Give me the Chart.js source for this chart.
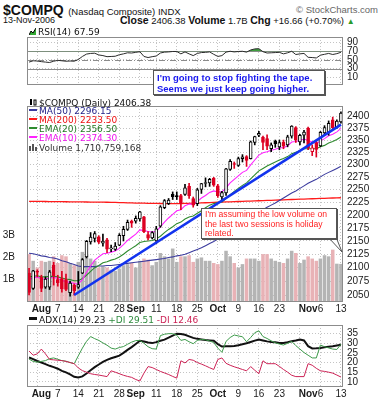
<!DOCTYPE html>
<html><head><meta charset="utf-8">
<script src="https://cdn.jsdelivr.net/npm/chart.js@4.4.1/dist/chart.umd.min.js"></script>
<style>
html,body{margin:0;padding:0;background:#fff}
#wrap{position:relative;width:382px;height:400px;overflow:hidden;background:#fff;font-family:"Liberation Sans",Arial,sans-serif;color:#111}
canvas{position:absolute;left:0}
.a{position:absolute;white-space:nowrap;line-height:1}
.lg{position:absolute;left:29px;font-family:"DejaVu Sans",Verdana,sans-serif;font-size:9px;line-height:9px;white-space:nowrap}
.lg i{display:inline-block;width:8px;height:2px;margin-right:2px;position:relative;top:-3px}
.note{position:absolute;box-sizing:border-box;background:#fff;border:1px solid #555;box-shadow:1px 1px 0 #555;white-space:nowrap}
</style></head><body>
<div id="wrap">
<div class="a" style="left:3px;top:2px"><b style="font-size:14px">$COMPQ</b> <span style="font-size:9.5px">(Nasdaq Composite) INDX</span></div>
<div class="a" style="right:4px;top:5px;font-size:9.5px;color:#666">© StockCharts.com</div>
<div class="a" style="left:3px;top:16px;font-size:9px">13-Nov-2006</div>
<div class="a" style="left:120px;top:15px;font-size:9.5px"><b style="font-size:10.5px">Close</b> 2406.38 <b style="font-size:10.5px">Volume</b> 1.7B <b style="font-size:10.5px">Chg</b> +16.66 (+0.70%) <span style="color:#2a9a2a;font-size:8px">▲</span></div>

<canvas id="rsi" width="382" height="68" style="top:27px"></canvas>
<canvas id="main" width="382" height="220" style="top:96px"></canvas>
<canvas id="adx" width="382" height="86" style="top:315px"></canvas>

<div class="lg" style="top:28px"><svg width="7" height="7" style="margin-right:2px"><path d="M0 7 L2 3 L4 5 L7 0 L7 7Z" fill="#3a3"/><path d="M0 7 L2 3 L4 5 L7 0" stroke="#000" fill="none"/></svg>RSI(14) 67.59</div>

<div class="lg" style="top:98px;color:#111"><svg width="8" height="8" style="margin-right:2px"><rect x="1" y="1" width="2" height="6" fill="#000"/><rect x="5" y="2" width="2" height="5" fill="none" stroke="#000" stroke-width="1"/></svg>$COMPQ (Daily) 2406.38</div>
<div class="lg" style="top:107px;color:#222288"><i style="background:#3b3b9e"></i>MA(50) 2296.15</div>
<div class="lg" style="top:116px;color:#ee1111"><i style="background:#ff1a1a"></i>MA(200) 2233.50</div>
<div class="lg" style="top:125px;color:#227722"><i style="background:#2e8b2e"></i>EMA(20) 2356.50</div>
<div class="lg" style="top:134px;color:#ee11ee"><i style="background:#ff22ff"></i>EMA(10) 2374.30</div>
<div class="lg" style="top:143px;color:#333"><svg width="8" height="8" style="margin-right:2px"><rect x="0" y="3" width="2" height="5" fill="#555"/><rect x="3" y="1" width="2" height="7" fill="#555"/><rect x="6" y="4" width="2" height="4" fill="#555"/></svg>Volume 1,710,759,168</div>

<div class="lg" style="top:316px"><i style="background:#111;height:3px"></i>ADX(14) 29.23 <span style="color:#2e8b3e">+DI 29.51</span> <span style="color:#cc2255">-DI 12.46</span></div>

<div class="note" style="left:153px;top:70px;width:172px;height:25px;padding:1px 0 0 3px;color:#1a1aee;font-weight:bold;font-size:9.5px;line-height:11px">I'm going to stop fighting the tape.<br>Seems we just keep going higher.</div>

<svg style="position:absolute;left:0;top:0" width="382" height="400"><polygon points="328,237 342,252 336,237" fill="#fff" stroke="#555" stroke-width="1"/></svg>
<div class="note" style="left:201px;top:208px;width:136px;height:31px;padding:1px 0 0 3px;color:#ff2222;font-size:8.6px;line-height:9.7px">I'm assuming the low volume on<br>the last two sessions is holiday<br>related.</div>
</div>

<script>
// ---------- DATA ----------
const dates = ["Jul 27","Jul 28","Jul 31","Aug 1","Aug 2","Aug 3","Aug 4","Aug 7","Aug 8","Aug 9","Aug 10","Aug 11","Aug 14","Aug 15","Aug 16","Aug 17","Aug 18","Aug 21","Aug 22","Aug 23","Aug 24","Aug 25","Aug 28","Aug 29","Aug 30","Aug 31","Sep 1","Sep 5","Sep 6","Sep 7","Sep 8","Sep 11","Sep 12","Sep 13","Sep 14","Sep 15","Sep 18","Sep 19","Sep 20","Sep 21","Sep 22","Sep 25","Sep 26","Sep 27","Sep 28","Sep 29","Oct 2","Oct 3","Oct 4","Oct 5","Oct 6","Oct 9","Oct 10","Oct 11","Oct 12","Oct 13","Oct 16","Oct 17","Oct 18","Oct 19","Oct 20","Oct 23","Oct 24","Oct 25","Oct 26","Oct 27","Oct 30","Oct 31","Nov 1","Nov 2","Nov 3","Nov 6","Nov 7","Nov 8","Nov 9","Nov 10","Nov 13"];

const open  = [2090,2062,2093,2082,2064,2064,2105,2078,2080,2078,2054,2068,2064,2090,2120,2148,2155,2158,2146,2152,2135,2134,2142,2160,2172,2188,2188,2192,2196,2162,2156,2150,2178,2214,2222,2240,2238,2238,2240,2256,2232,2222,2250,2262,2263,2272,2257,2235,2243,2290,2302,2298,2312,2316,2312,2345,2360,2356,2353,2332,2348,2336,2346,2340,2358,2376,2346,2360,2375,2326,2345,2338,2365,2366,2392,2377,2388];
const high  = [2099,2095,2096,2086,2083,2095,2110,2086,2093,2088,2075,2070,2093,2117,2151,2166,2168,2160,2163,2155,2142,2147,2164,2178,2190,2190,2198,2207,2197,2168,2168,2178,2218,2230,2232,2245,2245,2240,2260,2262,2235,2252,2262,2273,2272,2274,2260,2246,2292,2310,2305,2315,2320,2318,2348,2358,2368,2358,2361,2344,2350,2350,2350,2360,2380,2378,2362,2370,2377,2340,2350,2368,2380,2390,2398,2392,2409];
const low   = [2050,2060,2083,2056,2062,2060,2068,2066,2055,2058,2048,2050,2062,2089,2118,2144,2148,2145,2140,2128,2130,2132,2141,2150,2170,2176,2184,2188,2166,2152,2154,2145,2176,2212,2220,2230,2230,2210,2238,2232,2215,2218,2242,2255,2256,2256,2234,2227,2238,2288,2292,2296,2305,2296,2311,2340,2357,2330,2330,2326,2335,2330,2332,2336,2354,2345,2340,2344,2330,2318,2315,2336,2360,2360,2372,2374,2385];
const close = [2054.5,2094.1,2091.5,2062.0,2078.8,2092.3,2085.1,2072.5,2060.9,2060.3,2071.7,2057.7,2069.0,2115.0,2149.5,2157.6,2164.0,2147.8,2150.0,2134.7,2137.1,2140.3,2160.7,2172.3,2185.7,2183.8,2193.2,2205.7,2167.8,2155.3,2165.8,2173.3,2215.8,2227.7,2228.7,2235.6,2235.8,2222.4,2252.9,2237.8,2218.9,2249.1,2261.3,2263.4,2270.0,2258.4,2237.6,2243.7,2291.0,2306.3,2300.0,2311.8,2315.4,2308.3,2346.2,2357.3,2363.8,2345.0,2337.2,2340.3,2342.3,2344.8,2337.2,2356.6,2379.1,2350.6,2359.9,2366.7,2334.4,2334.0,2330.8,2366.0,2375.9,2384.9,2376.0,2389.7,2406.4];
const priorClose = 2073.9;

// volume in billions of shares
const volume = [2.15,1.85,1.55,1.85,1.80,1.85,2.05,1.75,2.10,2.05,1.75,1.65,1.80,2.25,2.15,1.95,1.85,1.55,1.60,1.55,1.45,1.40,1.50,1.65,1.70,1.75,1.55,1.85,1.95,1.90,1.65,1.80,2.20,2.05,1.95,2.40,1.80,2.05,2.05,2.10,1.80,1.95,2.00,1.85,1.85,1.75,1.70,1.85,2.30,2.05,1.75,1.55,1.70,1.95,1.95,1.95,1.85,2.15,2.15,1.95,1.85,1.80,1.75,1.95,2.30,2.20,1.75,1.90,2.05,1.95,1.85,1.95,2.10,2.05,2.35,1.72,1.71];

const ma50  = [2127,2126,2124,2122,2121,2119,2118,2116,2113,2111,2108,2106,2103,2102,2102,2102,2102,2103,2103,2104,2104,2105,2106,2107,2108,2109,2110,2111,2112,2113,2114,2115,2116,2117,2119,2120,2122,2123,2125,2128,2131,2134,2137,2141,2145,2149,2154,2158,2163,2168,2174,2179,2184,2189,2195,2200,2205,2210,2215,2219,2223,2228,2233,2238,2243,2247,2252,2257,2262,2266,2270,2275,2280,2284,2288,2292,2296.15];
const ma200 = [2226.5,2226.5,2226.4,2226.3,2226.1,2226.0,2226.0,2225.9,2225.8,2225.6,2225.5,2225.5,2225.4,2225.3,2225.1,2225.0,2225.0,2224.9,2224.7,2224.6,2224.4,2224.2,2224.0,2223.8,2223.6,2223.3,2223.1,2223.0,2222.8,2222.6,2222.4,2222.3,2222.2,2222.1,2222.0,2222.0,2222.0,2222.1,2222.3,2222.5,2222.8,2223.1,2223.4,2223.7,2224.0,2224.3,2224.6,2224.9,2225.2,2225.5,2225.8,2226.1,2226.4,2226.7,2227.0,2227.3,2227.6,2227.9,2228.2,2228.5,2228.8,2229.1,2229.4,2229.7,2230.0,2230.3,2230.6,2230.9,2231.2,2231.5,2231.8,2232.1,2232.4,2232.7,2233.0,2233.3,2233.5];
const ema20 = [2083,2084,2085,2083,2083,2084,2084,2083,2081,2079,2078,2076,2076,2080,2086,2093,2100,2104,2109,2111,2114,2116,2120,2125,2131,2136,2141,2147,2149,2150,2151,2154,2159,2166,2172,2177,2183,2186,2192,2196,2198,2203,2208,2214,2219,2222,2224,2225,2232,2239,2246,2252,2258,2263,2271,2279,2287,2292,2297,2301,2305,2309,2312,2316,2322,2325,2328,2332,2332,2332,2332,2336,2339,2344,2347,2351,2356.5];
const ema10 = [2078,2081,2083,2079,2079,2081,2082,2080,2077,2074,2073,2071,2070,2078,2091,2103,2114,2120,2126,2127,2129,2131,2136,2143,2151,2157,2163,2171,2170,2168,2167,2168,2177,2186,2194,2201,2208,2210,2218,2221,2221,2226,2233,2238,2244,2247,2245,2245,2253,2263,2270,2277,2284,2288,2299,2309,2319,2324,2326,2329,2331,2334,2334,2338,2346,2347,2349,2352,2349,2346,2343,2348,2353,2359,2362,2367,2374.3];

// hand-drawn trendline end points
const trendFrom = "Aug 11", trendFromValue = 2050;
const trendTo = "Nov 13",  trendToValue = 2382;

const rsi14 = [45,48,47.5,46,45,44,47,49,48,47,47.5,47,51,58,63.5,65,65.5,61.5,60,57.5,58,58.5,62,64,66.5,66,67.5,69,58,55.5,57.5,59,66,68,68.5,69.5,69.5,64,68.5,64,60,65,67,67.5,68.5,63,58,60,68,70,68.5,69.5,70,68,73,75.5,76,69,66,66.5,67,67.5,64,66.5,70,62.5,64,65,56,55.5,54.5,61,63,65,62.5,64.5,67.59];

const adx14   = [22.6,21.8,20.8,20.0,19.2,18.3,17.6,16.8,15.7,14.9,13.8,12.6,12.2,12.8,14.3,16.0,17.6,19.0,20.3,21.4,22.2,22.9,23.6,25.0,26.6,28.0,29.6,31.3,30.9,30.4,30.1,30.6,31.3,31.9,32.9,34.0,35.0,34.8,34.4,33.6,32.8,32.3,32.0,31.7,31.5,31.3,29.6,28.3,28.4,28.5,28.6,29.0,29.5,30.0,30.7,31.4,32.0,31.5,31.0,30.7,30.5,30.2,30.1,30.5,31.1,31.5,32.0,31.5,28.5,27.3,27.4,27.6,27.9,28.2,28.5,28.9,29.23];
const plusDI  = [21.8,20.6,20.2,20.6,21.0,22.0,22.4,21.7,21.0,20.7,20.0,19.4,23.5,27.5,31.0,33.5,32.4,31.5,30.2,29.0,27.5,27.0,27.8,28.3,29.5,30.6,31.4,31.5,30.0,28.2,27.2,27.0,34.0,34.7,35.0,35.0,34.2,31.5,32.0,30.8,29.8,31.5,32.0,31.8,31.2,30.4,27.5,25.3,31.0,33.0,34.3,33.8,33.4,30.8,33.0,35.5,36.5,33.5,32.5,31.3,30.3,29.6,29.1,30.0,31.0,28.8,27.0,25.2,23.8,22.4,22.4,29.1,28.2,27.6,27.0,26.8,29.51];
const minusDI = [26.0,23.8,24.5,27.0,24.5,21.6,21.4,21.2,21.0,20.6,20.0,19.4,17.2,15.8,15.0,14.2,13.8,13.5,13.1,12.7,15.7,15.0,14.2,13.4,12.8,12.3,11.2,10.4,14.5,17.9,17.4,16.4,15.4,14.6,13.8,12.8,11.9,20.9,19.8,21.6,21.2,20.0,19.2,18.3,17.3,16.4,21.6,22.4,19.6,18.6,17.8,17.1,16.4,15.7,17.9,16.0,14.2,20.9,19.4,19.4,19.4,18.0,16.4,15.0,13.4,12.7,12.7,12.7,19.4,18.6,17.0,15.7,15.4,15.0,14.5,13.5,12.46];

const priceTicks  = [2050,2075,2100,2125,2150,2175,2200,2225,2250,2275,2300,2325,2350,2375,2400];
const volumeTicks = [1,2,3];
const rsiTicks    = [10,30,50,70,90];
const adxTicks    = [10,15,20,25,30,35];
const xTickDates  = ["Aug 1","Aug 7","Aug 14","Aug 21","Aug 28","Sep 1","Sep 11","Sep 18","Sep 25","Oct 2","Oct 9","Oct 16","Oct 23","Nov 1","Nov 6","Nov 13"];
const xTickText   = ["Aug","7","14","21","28","Sep","11","18","25","Oct","9","16","23","Nov","6","13"];
const gridDates   = ["Jul 31","Aug 7","Aug 14","Aug 21","Aug 28","Sep 5","Sep 11","Sep 18","Sep 25","Oct 2","Oct 9","Oct 16","Oct 23","Oct 30","Nov 6","Nov 13"];

// ---------- CHARTS ----------
const FONT = "'Liberation Sans', Arial, sans-serif";
Chart.defaults.font.family = FONT;
Chart.defaults.animation = false;

const tickMap = {};
xTickDates.forEach((d, k) => { tickMap[dates.indexOf(d)] = xTickText[k]; });
const gridIdx = new Set(gridDates.map(d => dates.indexOf(d)));
const GRID = '#c4c4c4';

const UP = '#000000', DOWN = '#dd0022';
const prevClose = i => (i === 0 ? priorClose : close[i - 1]);
const candleColor = close.map((c, i) => (c >= prevClose(i) ? UP : DOWN));
const bodyFill = close.map((c, i) => (c > open[i] ? '#ffffff' : candleColor[i]));
const volColor = close.map((c, i) => (c >= prevClose(i) ? '#b4b4b4' : '#e8b2b6'));

function xAxis(showLabels, h) {
  return {
    type: 'category', offset: true,
    grid: { offset: false, drawTicks: false, lineWidth: 1,
      color: ctx => (gridIdx.has(ctx.index) ? GRID : 'rgba(0,0,0,0)') },
    border: { display: false, dash: [1, 2] },
    ticks: { display: showLabels, autoSkip: false, maxRotation: 0, minRotation: 0, padding: 1, color: '#1a1a1a',
      font: ctx => ({ family: FONT, size: 10, weight: /^[A-Z]/.test(tickMap[ctx.index] || '') ? 'bold' : 'normal' }),
      callback: (v, i) => tickMap[i] || '' },
    afterFit: s => { s.height = h; }
  };
}
function rightAxis(extra) {
  return Object.assign({
    position: 'right',
    grid: { drawTicks: false, color: GRID },
    border: { display: false, dash: [1, 2] },
    ticks: { autoSkip: false, padding: 4, color: '#1a1a1a', font: { size: 10, family: FONT }, callback: v => String(v) },
    afterFit: s => { s.width = 39; }
  }, extra);
}
const frame = { id: 'frame', afterDraw(chart) {
  const a = chart.chartArea, c = chart.ctx;
  c.save(); c.strokeStyle = '#8c8c8c'; c.lineWidth = 1;
  c.strokeRect(Math.round(a.left) + 0.5, Math.round(a.top) + 0.5, Math.round(a.right - a.left) - 1, Math.round(a.bottom - a.top) - 1);
  c.restore();
} };
const common = { responsive: false, devicePixelRatio: 1, animation: false, events: [],
  plugins: { legend: { display: false }, tooltip: { enabled: false } } };

// RSI panel
const rsiLines = { id: 'rsiLines', beforeDatasetsDraw(chart) {
  const y = chart.scales.y, a = chart.chartArea, c = chart.ctx;
  c.save(); c.strokeStyle = '#8c8c8c'; c.lineWidth = 1;
  [70, 30].forEach(v => { const p = Math.round(y.getPixelForValue(v)) + 0.5; c.beginPath(); c.moveTo(a.left, p); c.lineTo(a.right, p); c.stroke(); });
  c.setLineDash([6, 2, 1, 2]);
  const p = Math.round(y.getPixelForValue(50)) + 0.5; c.beginPath(); c.moveTo(a.left, p); c.lineTo(a.right, p); c.stroke();
  c.restore();
} };
new Chart(document.getElementById('rsi'), {
  type: 'line',
  data: { labels: dates, datasets: [{
    data: rsi14, borderColor: '#2a2a2a', borderWidth: 1, pointRadius: 0, tension: 0,
    fill: { target: { value: 70 }, above: '#3f9f3f', below: 'rgba(0,0,0,0)' } }] },
  options: Object.assign({}, common, {
    layout: { padding: { left: 27, right: 0, top: 0, bottom: 0 } },
    scales: {
      x: xAxis(false, 0),
      y: rightAxis({ type: 'linear', min: -8, max: 103, afterBuildTicks: s => { s.ticks = rsiTicks.map(v => ({ value: v })); } })
    }
  }),
  plugins: [rsiLines, frame]
});

// Price + volume panel
const trend = dates.map(d => (d === trendFrom ? trendFromValue : d === trendTo ? trendToValue : null));
const line = (data, color, width, order) => ({ type: 'line', data, yAxisID: 'y', borderColor: color, borderWidth: width,
  pointRadius: 0, tension: 0, fill: false, order, spanGaps: true });
new Chart(document.getElementById('main'), {
  type: 'bar',
  data: { labels: dates, datasets: [
    { type: 'bar', data: volume, yAxisID: 'yv', grouped: false, categoryPercentage: 1, barPercentage: 0.86,
      backgroundColor: volColor, borderWidth: 0, order: 10 },
    line(ma200, '#ff1a1a', 1.3, 8),
    line(ma50, '#3b3b9e', 1.1, 7),
    line(ema20, '#2e8b2e', 1.1, 6),
    line(ema10, '#ff22ff', 1.1, 5),
    { type: 'bar', data: dates.map((d, i) => [low[i], high[i]]), yAxisID: 'y', grouped: false, barThickness: 1,
      backgroundColor: candleColor, borderWidth: 0, order: 3 },
    { type: 'bar', data: dates.map((d, i) => [open[i], close[i]]), yAxisID: 'y', grouped: false, barThickness: 3,
      backgroundColor: bodyFill, borderColor: candleColor, borderWidth: 1, borderSkipped: false, order: 2 },
    line(trend, '#1233ee', 2.6, 1)
  ] },
  options: Object.assign({}, common, {
    layout: { padding: 0 },
    scales: {
      x: xAxis(true, 14),
      y: rightAxis({ type: 'logarithmic', min: 2037.4, max: 2421.6,
        afterBuildTicks: s => { s.ticks = priceTicks.map(v => ({ value: v })); } }),
      yv: { type: 'linear', position: 'left', min: 0, max: 8.8,
        afterBuildTicks: s => { s.ticks = volumeTicks.map(v => ({ value: v })); },
        grid: { display: false }, border: { display: false },
        ticks: { autoSkip: false, padding: 4, color: '#1a1a1a', font: { size: 10, family: FONT }, callback: v => v + 'B' },
        afterFit: s => { s.width = 27; } }
    }
  }),
  plugins: [frame]
});

// ADX panel
new Chart(document.getElementById('adx'), {
  type: 'line',
  data: { labels: dates, datasets: [
    { data: minusDI, borderColor: '#cc2255', borderWidth: 1, pointRadius: 0, tension: 0 },
    { data: plusDI, borderColor: '#3d9a4a', borderWidth: 1, pointRadius: 0, tension: 0 },
    { data: adx14, borderColor: '#111111', borderWidth: 2, pointRadius: 0, tension: 0 }
  ] },
  options: Object.assign({}, common, {
    layout: { padding: { left: 27, right: 0, top: 0, bottom: 0 } },
    scales: {
      x: xAxis(true, 14),
      y: rightAxis({ type: 'linear', min: 7.3, max: 39.5, afterBuildTicks: s => { s.ticks = adxTicks.map(v => ({ value: v })); } })
    }
  }),
  plugins: [frame]
});
</script>
</body></html>
